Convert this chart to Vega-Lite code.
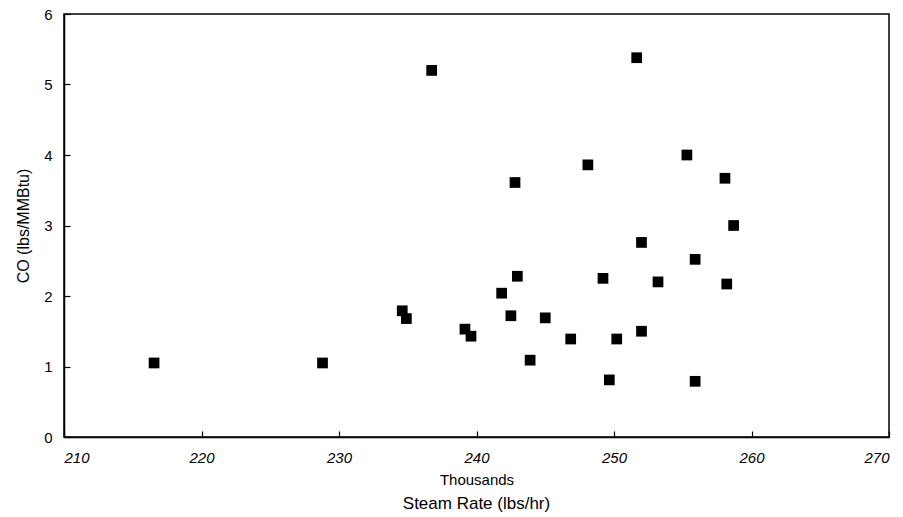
{
  "$schema": "https://vega.github.io/schema/vega-lite/v6.json",
  "autosize": "none",
  "width": 825,
  "height": 423,
  "padding": {"left": 64, "top": 14, "right": 14, "bottom": 80},
  "background": "white",
  "config": {
    "font": "Liberation Sans",
    "view": {"stroke": "black", "strokeWidth": 1.5},
    "axis": {"grid": false, "domainColor": "black", "domainWidth": 1.5, "tickColor": "black", "tickWidth": 1.2, "labelColor": "black", "titleColor": "black", "labelFont": "Liberation Sans", "titleFont": "Liberation Sans", "labelFontSize": 15, "titleFontWeight": "normal"}
  },
  "title": {"text": "Steam Rate (lbs/hr)", "orient": "bottom", "fontSize": 17, "fontWeight": "normal", "font": "Liberation Sans", "color": "black", "offset": 9},
  "data": {
    "values": [
      {"steam": 216.55, "co": 1.05},
      {"steam": 228.8, "co": 1.05},
      {"steam": 234.6, "co": 1.79},
      {"steam": 234.9, "co": 1.68},
      {"steam": 236.74, "co": 5.2},
      {"steam": 239.16, "co": 1.53},
      {"steam": 239.6, "co": 1.43},
      {"steam": 241.83, "co": 2.04},
      {"steam": 242.5, "co": 1.72},
      {"steam": 242.8, "co": 3.61},
      {"steam": 242.97, "co": 2.28},
      {"steam": 243.9, "co": 1.09},
      {"steam": 245.0, "co": 1.69},
      {"steam": 246.85, "co": 1.39},
      {"steam": 248.1, "co": 3.86},
      {"steam": 249.2, "co": 2.25},
      {"steam": 249.66, "co": 0.81},
      {"steam": 250.2, "co": 1.39},
      {"steam": 251.65, "co": 5.38},
      {"steam": 252.0, "co": 2.76},
      {"steam": 252.0, "co": 1.5},
      {"steam": 253.2, "co": 2.2},
      {"steam": 255.3, "co": 4.0},
      {"steam": 255.9, "co": 2.52},
      {"steam": 255.9, "co": 0.79},
      {"steam": 258.07, "co": 3.67},
      {"steam": 258.2, "co": 2.17},
      {"steam": 258.7, "co": 3.0}
    ]
  },
  "mark": {"type": "point", "shape": "square", "filled": true, "color": "black", "opacity": 1, "size": 115},
  "encoding": {
    "x": {"field": "steam", "type": "quantitative", "scale": {"domain": [210, 270], "nice": false, "zero": false},
      "axis": {"values": [210, 220, 230, 240, 250, 260, 270], "tickSize": -6, "labelPadding": 19, "labelFontStyle": "italic", "title": "Thousands", "titleFontSize": 15, "titlePadding": 7}},
    "y": {"field": "co", "type": "quantitative", "scale": {"domain": [0, 6], "nice": false},
      "axis": {"values": [0, 1, 2, 3, 4, 5, 6], "tickSize": -6, "labelPadding": 18, "title": "CO (lbs/MMBtu)", "titleFontSize": 16, "titlePadding": 12}}
  }
}
